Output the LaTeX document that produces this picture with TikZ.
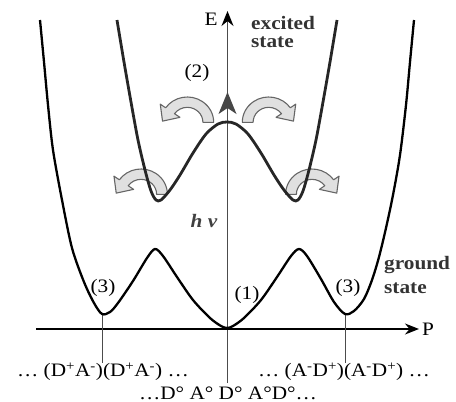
\documentclass[tikz,border=0pt]{standalone}
\usepackage{fontspec}
\setmainfont{Liberation Serif}[FakeStretch=1.12]
\usetikzlibrary{arrows.meta}
\begin{document}
\begin{tikzpicture}[x=1pt,y=-1pt,
  lbl/.style={font=\fontsize{19}{22}\selectfont, inner sep=0pt},
  blbl/.style={font=\fontsize{19}{18}\selectfont\bfseries, text=black!80, inner sep=0pt, align=left},
  gcurve/.style={line width=2.3pt, line join=round},
  ecurve/.style={line width=2.8pt, black!85, line join=round},
  band/.style={fill=black!12, draw=black!60, line width=1.1pt, line join=round},
  curlarrow/.pic={\path[band] (180:13) arc[start angle=180,end angle=35,radius=13]
     -- (35:7.5) -- (20.64,1.03) -- (35:27.5) -- (35:22)
     arc[start angle=35,end angle=180,radius=22] -- cycle;}
]
\useasboundingbox (0,0) rectangle (456,402);

% curved block arrows
\pic[xscale=-1.2,yscale=-1.15] (ul) at (187.3,122.3) {curlarrow};
\pic[xscale=1.2,yscale=-1.15] (ur) at (268.7,122.3) {curlarrow};
\pic[xscale=-1.2,yscale=-1.15] (ll) at (141,194.3) {curlarrow};
\pic[xscale=1.2,yscale=-1.15] (lr) at (312,194.3) {curlarrow};

% axes
\coordinate (Ebot) at (227.5,383);
\coordinate (Etop) at (227.5,11);
\coordinate (Pleft) at (36,329);
\coordinate (Pright) at (419,329);
\draw[black!70, line width=1.9pt, -{Stealth[length=15pt,width=12pt,color=black]}] (Ebot) -- (Etop);
\draw[line width=1.6pt, -{Stealth[length=14pt,width=11pt]}] (Pleft) -- (Pright);
\fill[black!72] (227.5,92) -- (236.5,114) -- (227.5,108) -- (218.5,114) -- cycle;

% minima markers
\coordinate (mL) at (102,314);
\coordinate (mLb) at (102,363);
\coordinate (mR) at (345,314);
\coordinate (mRb) at (345,363);
\draw[black!70, line width=1pt] (mL) -- (mLb);
\draw[black!70, line width=1pt] (mR) -- (mRb);

% ground state curve
\draw[gcurve] plot[smooth, tension=0.5] coordinates {(40,20) (44,62) (48,105) (53,150) (62,200) (72,248) (84,282) (94,303) (102,314) (110,312) (118,303) (133,281) (147,258) (155,249) (163,256) (177,277) (193,300) (210,318) (221,326) (227,328) (233,326) (244,318) (261,300) (277,277) (291,256) (299,249) (307,256) (321,279) (334,302) (345,314) (354,311) (364,299) (372,280) (379,257) (386,228) (393,195) (400,155) (406,105) (410,62) (414,20)};

% excited state curve
\draw[ecurve] plot[smooth, tension=0.5] coordinates {(117,20) (124,62) (131,102) (138,140) (145,170) (151,191) (156,200) (161,200) (170,190) (180,175) (193,153) (206,134) (218,124) (227,122) (236,124) (248,134) (261,153) (274,175) (284,190) (293,200) (298,200) (303,191) (309,170) (316,140) (323,102) (330,62) (337,20)};

% labels
\node[lbl] (E) at (211,19) {E};
\node[lbl] (P) at (428,329) {P};
\node[blbl, anchor=west] (exc) at (251,32) {excited\\state};
\node[blbl, anchor=west] (gnd) at (384,275) {ground\\[6pt]state};
\node[lbl] (two) at (197,73) {(2)};
\node[lbl, font=\fontsize{19}{22}\selectfont\bfseries\itshape, text=black!75] (hnu) at (204,221) {h ν};
\node[lbl] (one) at (247,295) {(1)};
\node[lbl] (threeL) at (103,288) {(3)};
\node[lbl] (threeR) at (348,288) {(3)};
\node[lbl] (botL) at (103,372) {… (D\textsuperscript{+}A\textsuperscript{-})(D\textsuperscript{+}A\textsuperscript{-}) …};
\node[lbl] (botR) at (344,372) {… (A\textsuperscript{-}D\textsuperscript{+})(A\textsuperscript{-}D\textsuperscript{+}) …};
\node[lbl] (botC) at (228,393) {…D° A° D° A°D°…};
\end{tikzpicture}
\end{document}
